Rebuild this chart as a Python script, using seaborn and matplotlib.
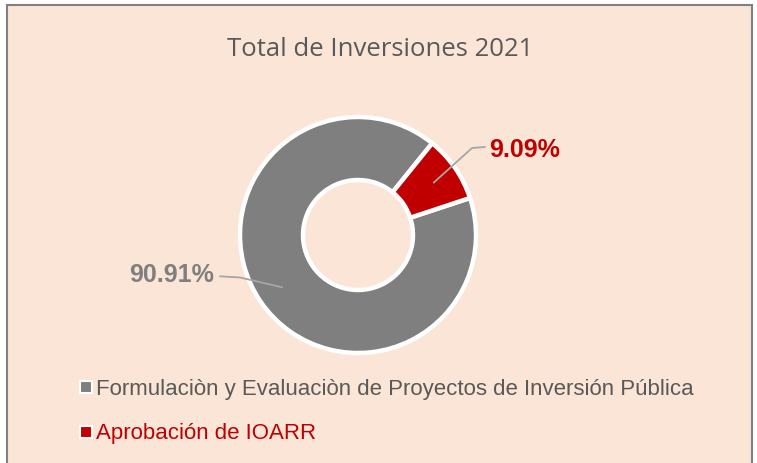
import numpy as np
import matplotlib
import matplotlib.pyplot as plt
import seaborn as sns
from matplotlib.patches import Rectangle
from matplotlib.lines import Line2D

# datos
categorias = ["Formulaciòn y Evaluaciòn de Proyectos de Inversión Pública",
              "Aprobación de IOARR"]
porcentajes = [90.91, 9.09]
etiquetas = ["90.91%", "9.09%"]
colores = ["#7F7F7F", "#C00000"]
color_texto_leyenda = ["#595959", "#C00000"]

FONDO = "#FBE5D6"
NARROW = ["Liberation Sans Narrow", "Liberation Sans", "DejaVu Sans"]

sns.set_theme(style="white")
plt.rcParams["font.family"] = NARROW

fig = plt.figure(figsize=(7.57, 4.63), dpi=100)
fig.patch.set_facecolor("white")

# marco del grafico
fig.patches.append(Rectangle((7 / 757, -0.05), 745 / 757, 1 - 5 / 463 + 0.05,
                             transform=fig.transFigure, facecolor=FONDO,
                             edgecolor="#808080", linewidth=1.5, zorder=-5))

fig.text(380 / 757, 1 - 50 / 463, "Total de Inversiones 2021", ha="center", va="center",
         fontsize=18.5, color="#595959", family=["Open Sans", "DejaVu Sans"])

ax = fig.add_axes([240 / 757, (463 - 353) / 463, 236 / 757, 236 / 463])
ax.set_zorder(2)
ax.set_facecolor("none")
wedges, _ = ax.pie(porcentajes, colors=colores, startangle=18.3, counterclock=False,
                   radius=1, wedgeprops=dict(width=0.534, edgecolor="white", linewidth=3.2))
ax.set_xlim(-1, 1)
ax.set_ylim(-1, 1)
ax.set_aspect("equal")
ax.axis("off")

# etiquetas con lineas guia
for w, etq, col in zip(wedges, etiquetas, colores):
    ang = np.deg2rad((w.theta1 + w.theta2) / 2)
    x0, y0 = 0.78 * np.cos(ang), 0.78 * np.sin(ang)
    if x0 < 0:
        pts_x = [x0, -1.0, -1.17]
        pts_y = [y0, -0.36, -0.35]
        tx, ty = -1.576, -0.34
    else:
        pts_x = [x0, 0.966, 1.076]
        pts_y = [y0, 0.737, 0.746]
        tx, ty = 1.415, 0.72
    ax.plot(pts_x, pts_y, color="#A6A6A6", linewidth=1.3, clip_on=False)
    ax.text(tx, ty, etq, ha="center", va="center", fontsize=18, fontweight="bold",
            color=col)

# leyenda
handles = [Line2D([], [], marker="s", linestyle="none", markersize=9,
                  markerfacecolor=c, markeredgecolor="white", markeredgewidth=1.5)
           for c in colores]
leg = fig.legend(handles, categorias, loc="upper left", bbox_to_anchor=(68 / 757, 1 - 368 / 463),
                 frameon=False, fontsize=16, handlelength=0.6, handletextpad=0.15,
                 labelspacing=1.05, borderpad=0)
for t, c in zip(leg.get_texts(), color_texto_leyenda):
    t.set_color(c)

fig.savefig("out.png", dpi=100, facecolor=fig.get_facecolor())
